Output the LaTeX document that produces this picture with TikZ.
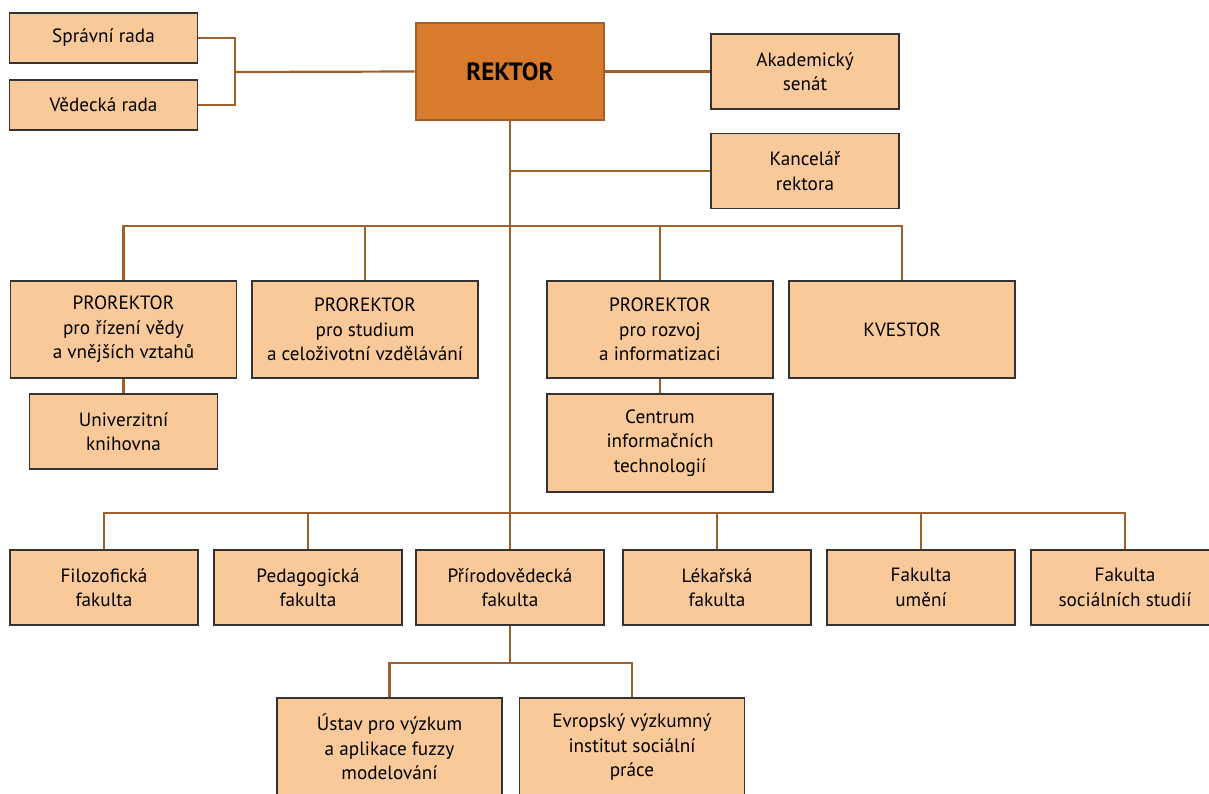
\documentclass[tikz,border=0pt]{standalone}
\usepackage{fontspec}
\setmainfont{PT Sans}
\definecolor{boxfill}{HTML}{F9C99A}
\definecolor{rekfill}{HTML}{D87B2C}
\definecolor{conn}{HTML}{A0602A}
\definecolor{boxline}{HTML}{333333}
\begin{document}
\begin{tikzpicture}[x=0.5pt,y=-0.5pt,
  box/.style={draw=boxline,line width=0.6pt,fill=boxfill,align=center,inner sep=0pt,
     font=\fontsize{9.6pt}{12.2pt}\selectfont},
  sbox/.style={box,minimum width=94pt,minimum height=25pt},
  mbox/.style={box,minimum width=94pt,minimum height=37.5pt},
  wbox/.style={box,minimum width=113pt,minimum height=48.5pt},
  rbox/.style={draw=conn,line width=1.3pt,fill=rekfill,align=center,inner sep=0pt,
     minimum width=94pt,minimum height=48.5pt,font=\fontsize{12.5pt}{14pt}\selectfont\bfseries},
  link/.style={draw=conn,line width=1.1pt}]
\useasboundingbox (0,0) rectangle (1209,793);
% top level
\node[sbox] (spr) at (103.5,38) {Správní rada};
\node[sbox] (ved) at (103.5,105) {Vědecká rada};
\node[rbox] (rek) at (510,71.5) {REKTOR};
\node[mbox] (aka) at (805,71.5) {Akademický\\senát};
\node[mbox] (kan) at (805,171) {Kancelář\\rektora};
% prorektors
\node[wbox] (p1) at (123.5,329.5) {PROREKTOR\\pro řízení vědy\\a vnějších vztahů};
\node[wbox] (p2) at (365,329.5) {PROREKTOR\\pro studium\\a celoživotní vzdělávání};
\node[wbox] (p3) at (660,329.5) {PROREKTOR\\pro rozvoj\\a informatizaci};
\node[wbox] (p4) at (902,329.5) {KVESTOR};
\node[mbox] (uk) at (123.5,431.5) {Univerzitní\\knihovna};
\node[wbox,minimum height=49pt] (cit) at (660,443) {Centrum\\informačních\\technologií};
% faculties
\node[mbox] (f1) at (104,587.5) {Filozofická\\fakulta};
\node[mbox] (f2) at (308,587.5) {Pedagogická\\fakulta};
\node[mbox] (f3) at (510,587.5) {Přírodovědecká\\fakulta};
\node[mbox] (f4) at (717,587.5) {Lékařská\\fakulta};
\node[mbox] (f5) at (921,587.5) {Fakulta\\umění};
\node[mbox] (f6) at (1125,587.5) {Fakulta\\sociálních studií};
% institutes
\node[wbox,minimum width=112.5pt,minimum height=49pt] (u1) at (389.5,747) {Ústav pro výzkum\\a aplikace fuzzy\\modelování};
\node[wbox,minimum width=112.5pt,minimum height=49pt] (u2) at (632,747) {Evropský výzkumný\\institut sociální\\práce};
% junction coordinates
\coordinate (cl) at (235,72);
\coordinate (kj) at (510,171);
\coordinate (pb) at (510,226);
\coordinate (fb) at (510,513);
\coordinate (bb) at (510,663);
% connectors
\draw[link] (spr.east) -| (cl) |- (ved.east);
\draw[link] (cl) -- (rek.west);
\draw[link] (rek.east) -- (aka.west);
\draw[link] (rek.south) -- (fb);
\draw[link] (fb) -- (f3.north);
\draw[link] (kj) -- (kan.west);
\draw[link] (p1.north) |- (pb) -| (p4.north);
\draw[link] (p2.north) |- (pb);
\draw[link] (p3.north) |- (pb);
\draw[link] (p1.south) -- (uk.north);
\draw[link] (p3.south) -- (cit.north);
\draw[link] (f1.north) |- (fb) -| (f6.north);
\draw[link] (f2.north) |- (fb);
\draw[link] (f4.north) |- (fb);
\draw[link] (f5.north) |- (fb);
\draw[link] (f3.south) -- (bb);
\draw[link] (u1.north) |- (bb) -| (u2.north);
\end{tikzpicture}
\end{document}
